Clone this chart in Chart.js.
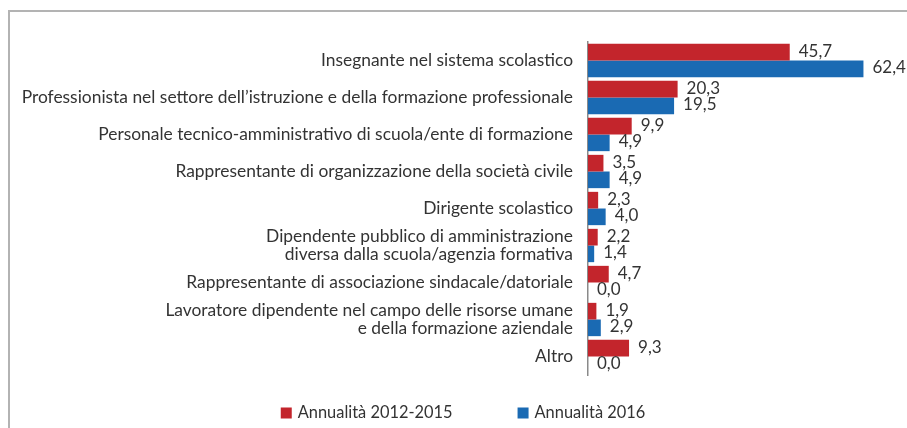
<!DOCTYPE html>
<html>
<head>
<meta charset="utf-8">
<script src="https://cdn.jsdelivr.net/npm/chart.js@4/dist/chart.umd.min.js"></script>
<style>
  html, body { margin: 0; padding: 0; background: #fff; }
  #cornice { position: absolute; left: 8px; top: 10px; width: 920px; height: 440px;
             border-left: 2px solid #b3b3b3; border-top: 2px solid #b3b3b3; }
  #wrap { position: absolute; left: 0; top: 0; width: 907px; height: 428px; }
</style>
</head>
<body>
<div id="cornice"></div>
<div id="wrap"><canvas id="grafico" width="907" height="428"></canvas></div>
<script>
const categorie = [
  'Insegnante nel sistema scolastico',
  'Professionista nel settore dell’istruzione e della formazione professionale',
  'Personale tecnico-amministrativo di scuola/ente di formazione',
  'Rappresentante di organizzazione della società civile',
  'Dirigente scolastico',
  ['Dipendente pubblico di amministrazione', 'diversa dalla scuola/agenzia formativa'],
  'Rappresentante di associazione sindacale/datoriale',
  ['Lavoratore dipendente nel campo delle risorse umane', 'e della formazione aziendale'],
  'Altro'
];
const serie = ['Annualità 2012-2015', 'Annualità 2016'];
const valori20122015 = [45.7, 20.3, 9.9, 3.5, 2.3, 2.2, 4.7, 1.9, 9.3];
const valori2016 = [62.4, 19.5, 4.9, 4.9, 4.0, 1.4, 0.0, 2.9, 0.0];
const colori = ['#c3252c', '#1a6ab3'];

const FONT = 'Lato, "Open Sans", sans-serif';
const fmt = v => v.toFixed(1).replace('.', ',');

// etichette dei valori a destra delle barre
const etichetteValori = {
  id: 'etichetteValori',
  afterDatasetsDraw(chart) {
    const ctx = chart.ctx;
    ctx.save();
    ctx.font = '17px ' + FONT;
    ctx.fillStyle = '#333';
    ctx.textBaseline = 'middle';
    ctx.textAlign = 'left';
    chart.data.datasets.forEach((ds, i) => {
      chart.getDatasetMeta(i).data.forEach((bar, j) => {
        ctx.fillText(fmt(ds.data[j]), bar.x + 9, bar.y - 1);
      });
    });
    ctx.restore();
  }
};

// legenda in basso
const legenda = {
  id: 'legenda',
  afterDraw(chart) {
    const ctx = chart.ctx;
    ctx.save();
    ctx.font = '16.4px ' + FONT;
    ctx.textBaseline = 'middle';
    const box = 11, gap = 6, spazio = 65, y = 413;
    const larg = chart.data.datasets.map(ds => ctx.measureText(ds.label).width);
    let x = 463 - (box * 2 + gap * 2 + larg[0] + larg[1] + spazio) / 2;
    chart.data.datasets.forEach((ds, i) => {
      ctx.fillStyle = ds.backgroundColor;
      ctx.fillRect(x, y - box / 2, box, box);
      x += box + gap;
      ctx.fillStyle = '#333';
      ctx.fillText(ds.label, x, y);
      x += larg[i] + spazio;
    });
    ctx.restore();
  }
};

new Chart(document.getElementById('grafico'), {
  type: 'bar',
  data: {
    labels: categorie,
    datasets: [
      { label: serie[0], data: valori20122015, backgroundColor: colori[0] },
      { label: serie[1], data: valori2016, backgroundColor: colori[1] }
    ]
  },
  options: {
    indexAxis: 'y',
    responsive: false,
    animation: false,
    categoryPercentage: 0.9,
    barPercentage: 1.0,
    layout: { padding: { left: 10, right: 10, top: 42, bottom: 53 } },
    scales: {
      x: { display: false, min: 0, max: 70 },
      y: {
        grid: { display: false, drawTicks: false },
        border: { display: true, color: '#8a8a8a', width: 1.5 },
        ticks: {
          color: '#333', padding: 15, autoSkip: false,
          font: { family: FONT, size: 17.4, lineHeight: 18 / 17.4 }
        },
        afterFit(scale) { scale.width = 578; }
      }
    },
    plugins: {
      legend: { display: false },
      tooltip: { enabled: false }
    }
  },
  plugins: [etichetteValori, legenda]
});
</script>
</body>
</html>
